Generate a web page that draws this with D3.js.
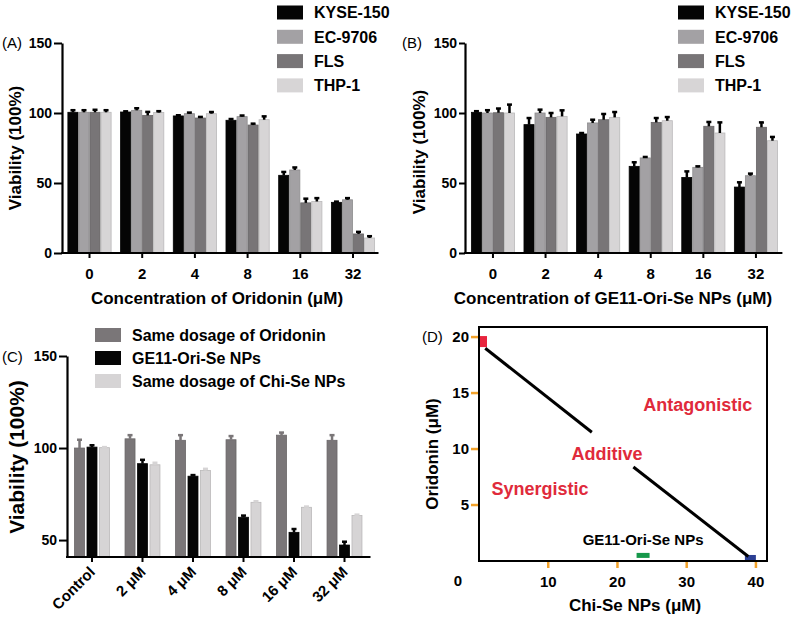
<!DOCTYPE html>
<html><head><meta charset="utf-8">
<script src="https://cdn.jsdelivr.net/npm/d3@7"></script>
<style>
body{margin:0;background:#fff;}
text{font-family:"Liberation Sans",Arial,Helvetica,sans-serif;}
</style></head>
<body>
<svg id="chart" width="800" height="619"></svg>
<script>
// ---------- DATA ----------
const concAB = ["0","2","4","8","16","32"];
const cellLines = ["KYSE-150","EC-9706","FLS","THP-1"];
// Panel A: Oridonin
const aKYSE = [100.5,100.7,97.9,94.8,55.5,36.2];
const aEC   = [100.5,101.9,99.5,97.4,59.3,38.0];
const aFLS  = [100.5,98.3,96.4,91.4,35.8,13.6];
const aTHP  = [100.5,100.3,99.5,95.2,36.8,10.7];
const aKYSEerr = [1.5,0.5,0.5,0.9,2.4,0.5];
const aECerr   = [1.5,1.5,0.8,0.8,1.8,1.2];
const aFLSerr  = [1.8,2.5,0.8,1.0,3.0,1.5];
const aTHPerr  = [1.5,1.0,1.2,2.4,2.4,1.3];
// Panel B: GE11-Ori-Se NPs
const bKYSE = [100.5,91.7,85.0,61.9,54.0,47.1];
const bEC   = [100.0,100.0,92.9,67.9,61.2,55.2];
const bFLS  = [100.2,96.9,95.2,93.3,90.5,89.8];
const bTHP  = [100.0,97.6,96.9,94.5,85.7,80.2];
const bKYSEerr = [0.8,4.7,0.7,2.9,4.3,3.4];
const bECerr   = [2.0,2.4,2.3,0.7,0.7,1.5];
const bFLSerr  = [3.0,3.1,4.1,3.1,3.1,3.5];
const bTHPerr  = [6.0,4.3,3.8,2.6,7.6,2.7];
// Panel C
const concC = ["Control","2 μM","4 μM","8 μM","16 μM","32 μM"];
const treatC = ["Same dosage of Oridonin","GE11-Ori-Se NPs","Same dosage of Chi-Se NPs"];
const cOri  = [100.0,105.0,104.2,104.5,107.0,104.2];
const cGE11 = [100.5,91.5,84.7,62.4,54.2,47.3];
const cChi  = [100.2,90.9,87.8,70.5,67.8,63.3];
const cOriErr  = [4.5,2.0,2.8,2.0,1.4,2.8];
const cGE11Err = [1.0,2.1,0.6,0.9,1.8,1.8];
const cChiErr  = [0.3,1.1,0.9,0.6,0.4,0.5];
// Panel D: isobologram
const dTicksX = [10,20,30,40];
const dTicksY = [5,10,15,20];
const isoboleSeg1 = [[0.9,19.0],[16.3,11.5]];
const isoboleSeg2 = [[22.3,8.4],[38.9,0.4]];
const dRegionLabels = ["Antagonistic","Additive","Synergistic"];
const dRegionX = [31.6,18.5,8.8];
const dRegionY = [14.0,9.6,6.5];
const dPointNames = ["Oridonin","Chi-Se NPs","GE11-Ori-Se NPs"];
const dPointX = [0.65,39.2,23.7];
const dPointY = [19.6,0.27,0.5];

// ---------- STYLE ----------
const FONT = '"Liberation Sans",Arial,Helvetica,sans-serif';
const colAB = ["#050505","#a3a1a4","#787577","#d7d5d6"];
const colC = ["#7a7678","#050505","#d6d4d5"];
const svg = d3.select("#chart");

function barPanel(opt){
  const g = svg.append("g");
  const x0 = d3.scaleBand().domain(opt.cats).range(opt.xr).paddingInner(opt.pi).paddingOuter(opt.po);
  const x1 = d3.scaleBand().domain(d3.range(opt.series.length)).range([0,x0.bandwidth()]).padding(opt.inner);
  const y = d3.scaleLinear().domain(opt.yd).range(opt.yr);
  opt.series.forEach((vals,si)=>{
    const sg = g.append("g");
    sg.selectAll("rect").data(vals).join("rect")
      .attr("x",(d,i)=>x0(opt.cats[i])+x1(si))
      .attr("y",d=>y(d))
      .attr("width",x1.bandwidth())
      .attr("height",d=>y(opt.yd[0])-y(d))
      .attr("fill",opt.colors[si])
      .attr("stroke",d3.color(opt.colors[si]).darker(0.4))
      .attr("stroke-width",0.8);
    const ec = opt.errColor ? opt.errColor[si] : "#000";
    sg.selectAll("line.e").data(vals).join("line").attr("class","e")
      .attr("x1",(d,i)=>x0(opt.cats[i])+x1(si)+x1.bandwidth()/2)
      .attr("x2",(d,i)=>x0(opt.cats[i])+x1(si)+x1.bandwidth()/2)
      .attr("y1",d=>y(d))
      .attr("y2",(d,i)=>y(d+opt.errs[si][i]))
      .attr("stroke",ec).attr("stroke-width",2.5);
    sg.selectAll("line.c").data(vals).join("line").attr("class","c")
      .attr("x1",(d,i)=>x0(opt.cats[i])+x1(si)+x1.bandwidth()/2-2.5)
      .attr("x2",(d,i)=>x0(opt.cats[i])+x1(si)+x1.bandwidth()/2+2.5)
      .attr("y1",(d,i)=>y(d+opt.errs[si][i]))
      .attr("y2",(d,i)=>y(d+opt.errs[si][i]))
      .attr("stroke",ec).attr("stroke-width",2.5);
  });
  // y axis
  const ya = g.append("g").attr("transform",`translate(${opt.axisX},0)`)
    .call(d3.axisLeft(y).tickValues(opt.yticks).tickSize(opt.ytick).tickPadding(2).tickSizeOuter(0));
  ya.select(".domain").attr("stroke-width",2.2);
  ya.selectAll(".tick line").attr("stroke-width",2);
  ya.selectAll("text").attr("font-size",opt.ytickFs).attr("font-weight","bold").attr("font-family",FONT).attr("fill","#000");
  // x axis
  const xa = g.append("g").attr("transform",`translate(0,${opt.yr[0]})`)
    .call(d3.axisBottom(x0).tickSize(5).tickSizeOuter(0).tickPadding(opt.xpad));
  xa.select(".domain").attr("d",`M${opt.axisX-1},0H${opt.xr[1]+opt.xext}`).attr("stroke-width",2.2);
  xa.selectAll(".tick line").attr("stroke-width",2);
  xa.selectAll("text").attr("font-size",opt.xtickFs).attr("font-weight","bold").attr("font-family",FONT).attr("fill","#000");
  if(opt.rotate){
    xa.selectAll(".tick text").attr("text-anchor","end").attr("dy",0).attr("y",0)
      .attr("transform","translate(4,16) rotate(-45)");
  }
  // legend
  const lg = g.append("g");
  opt.names.forEach((n,i)=>{
    lg.append("rect").attr("x",opt.lx).attr("y",opt.ly+i*opt.lstep-7).attr("width",26).attr("height",14).attr("fill",opt.colors[i]);
    lg.append("text").attr("x",opt.lx+37).attr("y",opt.ly+i*opt.lstep).attr("dy","0.36em")
      .attr("font-size",16).attr("font-weight","bold").text(n);
  });
  // titles
  g.append("text").attr("x",opt.ylab[0]).attr("y",opt.ylab[1]).attr("transform",`rotate(-90,${opt.ylab[0]},${opt.ylab[1]})`)
    .attr("text-anchor","middle").attr("dy","0.36em").attr("font-size",opt.ylabFs).attr("font-weight","bold").text("Viability (100%)");
  if(opt.xlab) g.append("text").attr("x",opt.xlab[0]).attr("y",opt.xlab[1]).attr("text-anchor","middle").attr("dy","0.36em")
    .attr("font-size",17).attr("font-weight","bold").text(opt.xlabText);
  g.append("text").attr("x",opt.tag[0]).attr("y",opt.tag[1]).attr("dy","0.36em").attr("font-size",15).text(opt.tagText);
}

barPanel({cats:concAB, series:[aKYSE,aEC,aFLS,aTHP], errs:[aKYSEerr,aECerr,aFLSerr,aTHPerr],
  colors:colAB, names:cellLines, axisX:62, xr:[67,375.5], pi:0.146, po:0, inner:0.08, xext:3, ytick:8,
  yd:[0,150], yr:[253,43], yticks:[0,50,100,150], ytickFs:14, xtickFs:15, xpad:10,
  lx:277, ly:12.5, lstep:24.3, ylab:[15,148], ylabFs:17, xlab:[217,298],
  xlabText:"Concentration of Oridonin (μM)", tag:[2,43], tagText:"(A)"});

barPanel({cats:concAB, series:[bKYSE,bEC,bFLS,bTHP], errs:[bKYSEerr,bECerr,bFLSerr,bTHPerr],
  colors:colAB, names:cellLines, axisX:465, xr:[470.5,778.4], pi:0.146, po:0, inner:0.08, xext:4, ytick:6,
  yd:[0,150], yr:[253,43], yticks:[0,50,100,150], ytickFs:14, xtickFs:15, xpad:10,
  lx:678, ly:12.5, lstep:24.3, ylab:[419,152], ylabFs:17, xlab:[613,298],
  xlabText:"Concentration of GE11-Ori-Se NPs (μM)", tag:[402,43], tagText:"(B)"});

barPanel({cats:concC, series:[cOri,cGE11,cChi], errs:[cOriErr,cGE11Err,cChiErr],
  colors:colC, errColor:colC, names:treatC, axisX:67, xr:[67,369.5], pi:0.21, po:0.1, inner:0.2, xext:1, ytick:8,
  yd:[40.8,150], yr:[557,356], yticks:[50,100,150], ytickFs:14, xtickFs:15, xpad:6, rotate:true,
  lx:95, ly:335, lstep:23, ylab:[16,457], ylabFs:21, xlab:null,
  tag:[2,357], tagText:"(C)"});

// ---------- Panel D ----------
(function(){
  const g = svg.append("g");
  const x = d3.scaleLinear().domain([0,41.6]).range([479,767]);
  const y = d3.scaleLinear().domain([0,20.9]).range([561,327]);
  const orange = "#f2a22a";
  g.selectAll("line.yt").data(dTicksY).join("line").attr("class","yt")
    .attr("x1",x(0)-8).attr("x2",x(0)).attr("y1",d=>y(d)).attr("y2",d=>y(d))
    .attr("stroke",orange).attr("stroke-width",2.5);
  g.selectAll("line.xt").data(dTicksX).join("line").attr("class","xt")
    .attr("x1",d=>x(d)).attr("x2",d=>x(d)).attr("y1",y(0)).attr("y2",y(0)+7)
    .attr("stroke",orange).attr("stroke-width",2.5);
  g.selectAll("text.yl").data(dTicksY).join("text").attr("class","yl")
    .attr("x",x(0)-10).attr("y",d=>y(d)).attr("dy","0.36em").attr("text-anchor","end")
    .attr("font-size",15).attr("font-weight","bold").text(d=>d);
  g.selectAll("text.xl").data(dTicksX).join("text").attr("class","xl")
    .attr("x",d=>x(d)).attr("y",y(0)+21).attr("dy","0.36em").attr("text-anchor","middle")
    .attr("font-size",15).attr("font-weight","bold").text(d=>d);
  g.append("text").attr("x",x(0)-21).attr("y",y(0)+20).attr("dy","0.36em").attr("text-anchor","middle")
    .attr("font-size",15).attr("font-weight","bold").text("0");
  // points
  const pc = ["#e8253e","#2b3f93","#16984a"];
  const pw = [7,11,13], ph = [11,6,5];
  dPointX.forEach((v,i)=>{
    g.append("rect").attr("x",x(v)-pw[i]/2).attr("y",y(dPointY[i])-ph[i]/2)
      .attr("width",pw[i]).attr("height",ph[i]).attr("fill",pc[i]);
  });
  const line = d3.line().x(d=>x(d[0])).y(d=>y(d[1]));
  [isoboleSeg1,isoboleSeg2].forEach(s=>g.append("path").attr("d",line(s)).attr("stroke","#000").attr("stroke-width",3).attr("fill","none"));
  g.append("rect").attr("x",x(0)).attr("y",y(20.9)).attr("width",x(41.6)-x(0)).attr("height",y(0)-y(20.9))
    .attr("fill","none").attr("stroke","#000").attr("stroke-width",2);
  dRegionLabels.forEach((t,i)=>{
    g.append("text").attr("x",x(dRegionX[i])).attr("y",y(dRegionY[i])).attr("dy","0.36em").attr("text-anchor","middle")
      .attr("font-size",18).attr("font-weight","bold").attr("fill","#e02a3b").text(t);
  });
  g.append("text").attr("x",x(23.7)).attr("y",y(1.9)).attr("dy","0.36em").attr("text-anchor","middle")
    .attr("font-size",15).attr("font-weight","bold").text(dPointNames[2]);
  g.append("text").attr("x",432).attr("y",454).attr("transform","rotate(-90,432,454)").attr("text-anchor","middle").attr("dy","0.36em")
    .attr("font-size",17).attr("font-weight","bold").text("Oridonin (μM)");
  g.append("text").attr("x",635).attr("y",605).attr("text-anchor","middle").attr("dy","0.36em")
    .attr("font-size",17).attr("font-weight","bold").text("Chi-Se NPs (μM)");
  g.append("text").attr("x",422).attr("y",337).attr("dy","0.36em").attr("font-size",15).text("(D)");
})();
</script>
</body></html>
